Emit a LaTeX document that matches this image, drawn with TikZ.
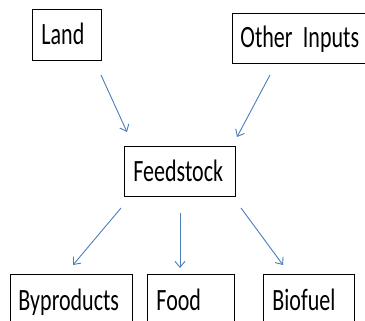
\documentclass[tikz,border=0pt]{standalone}
\usepackage{fontspec}
\setmainfont{Carlito}[FakeStretch=0.71]
\usetikzlibrary{arrows.meta}
\definecolor{arrowblue}{HTML}{4A7EBB}
\begin{document}
\begin{tikzpicture}[x=1pt,y=-1pt,
  box/.style={draw=black, line width=0.9pt, rectangle, anchor=west, align=left,
    inner ysep=0pt, minimum height=51pt, text height=20pt, text depth=0pt,
    font=\fontsize{31}{36}\selectfont},
  flow/.style={draw=arrowblue, line width=0.9pt, -{Straight Barb[length=6pt,width=10pt]}}]
\useasboundingbox (0,0) rectangle (365,321);
\fill[white] (0,0) rectangle (365,321);
\node[box, inner xsep=9pt, text width=51pt] (land) at (32,34.5) {Land};
\node[box, inner xsep=8pt, text width=140pt, minimum height=50pt] (other) at (232,38) {Other Inputs};
\node[box, inner xsep=9pt, text width=93pt, minimum height=50pt] (feed) at (124,171.5) {Feedstock};
\node[box, inner xsep=8pt, text width=106pt] (byp) at (10,300) {Byproducts};
\node[box, inner xsep=9pt, text width=69pt] (food) at (147,300) {Food};
\node[box, inner xsep=9pt, text width=73pt] (bio) at (263,300) {Biofuel};
\coordinate (a1s) at (101,75);  \coordinate (a1e) at (127,132);
\coordinate (a2s) at (270,75);  \coordinate (a2e) at (237,137);
\coordinate (a3s) at (121,208); \coordinate (a3e) at (73,265);
\coordinate (a4s) at (180,213); \coordinate (a4e) at (180,268);
\coordinate (a5s) at (241,208); \coordinate (a5e) at (283,265);
\draw[flow] (a1s) -- (a1e);
\draw[flow] (a2s) -- (a2e);
\draw[flow] (a3s) -- (a3e);
\draw[flow] (a4s) -- (a4e);
\draw[flow] (a5s) -- (a5e);
\end{tikzpicture}
\end{document}
